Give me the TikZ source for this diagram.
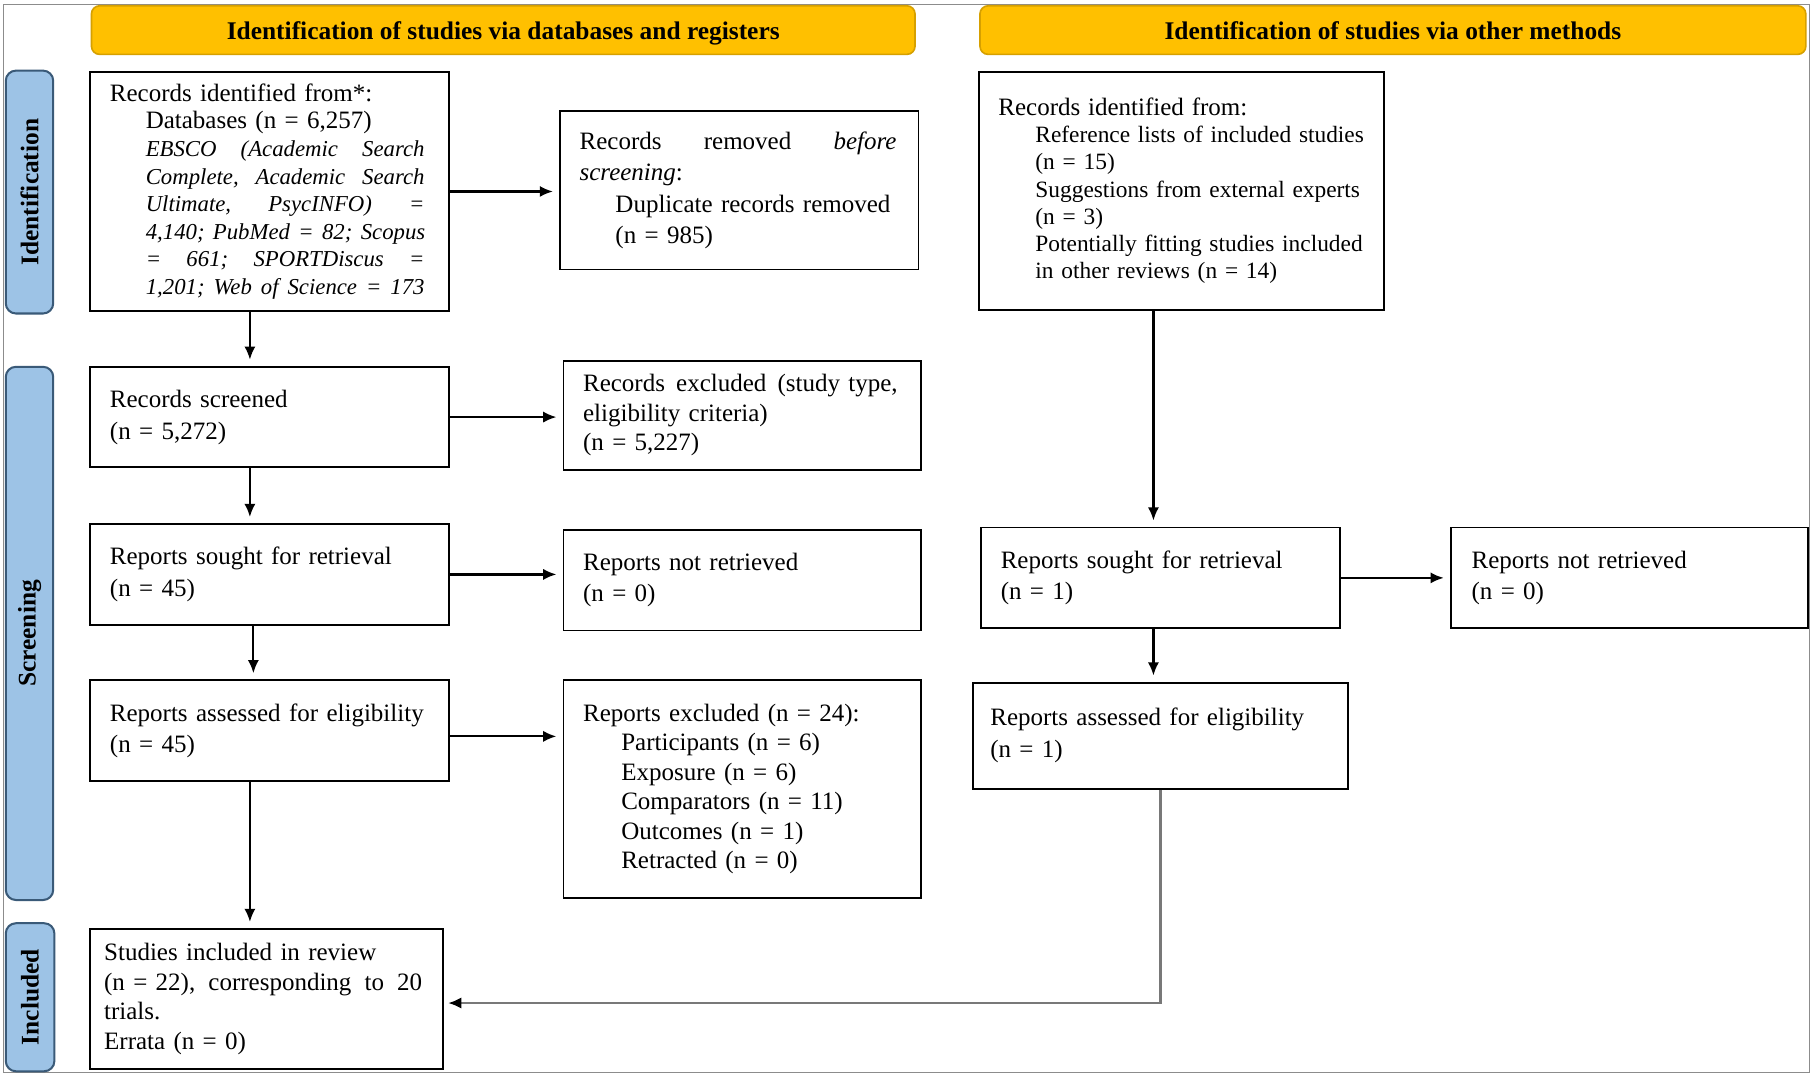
\documentclass[tikz,border=0pt]{standalone}
\usepackage{fontspec}
\setmainfont{Liberation Serif}
\usetikzlibrary{arrows.meta}
\definecolor{hdrfill}{RGB}{255,192,0}
\definecolor{hdrdraw}{RGB}{214,160,0}
\definecolor{sidefill}{RGB}{157,195,230}
\definecolor{sidedraw}{RGB}{58,90,120}
\definecolor{framegray}{RGB}{140,140,140}
\definecolor{linkgray}{RGB}{120,120,120}
\newcommand{\jl}[2]{\makebox[#1][l]{#2}}
\newcommand{\itl}[1]{\hspace*{0.62cm}\makebox[4.82cm][l]{\fontsize{11.2}{13.6}\selectfont\itshape #1}}
\begin{document}
\begin{tikzpicture}[x=0.02cm,y=-0.02cm,
 box/.style={draw=black, line width=0.9pt, rectangle, align=left, inner xsep=0.34cm, inner ysep=0pt, font=\fontsize{12.3}{14.5}\selectfont, anchor=center},
 hdr/.style={draw=hdrdraw, line width=0.8pt, fill=hdrfill, rounded corners=4pt, font=\fontsize{12.5}{14}\selectfont\bfseries, minimum height=0.84cm, inner sep=0pt, text height=12pt, text depth=2.5pt},
 side/.style={draw=sidedraw, line width=1pt, fill=sidefill, rounded corners=5pt, rotate=90, font=\fontsize{12.5}{14}\selectfont\bfseries, inner sep=0pt},
 arr/.style={line width=1.1pt, -{Latex[length=6.5pt,width=5.5pt]}, shorten >=3pt},
 garr/.style={draw=linkgray, line width=1.2pt, -{Latex[length=6.5pt,width=5.5pt,color=black]}, shorten >=2pt}
]
\useasboundingbox (0,0) rectangle (1568,931);
\fill[white] (0,0) rectangle (1568,931);
\draw[framegray, line width=0.6pt] (3,4) rectangle (1564,927);

% headers
\node[hdr, minimum width=14.24cm] (H1) at (435,26) {Identification of studies via databases and registers};
\node[hdr, minimum width=14.28cm] (H2) at (1204,26) {Identification of studies via other methods};

% side labels
\node[side, minimum width=4.2cm, minimum height=0.82cm] (S1) at (25.5,166) {Identification};
\node[side, minimum width=9.22cm, minimum height=0.82cm] (S2) at (25.5,547.5) {Screening};
\node[side, minimum width=2.56cm, minimum height=0.84cm] (S3) at (26,862) {Included};

% left column
\node[box, minimum width=6.2cm, minimum height=4.14cm, text width=5.52cm, font=\fontsize{12.3}{13.6}\selectfont] (A) at (233,165.5) {Records identified from*:\\
\hspace*{0.62cm}Databases (n = 6,257)\\
\itl{EBSCO \hfill (Academic \hfill Search}\\
\itl{Complete, \hfill Academic \hfill Search}\\
\itl{Ultimate, \hfill PsycINFO) \hfill =}\\
\itl{4,140; \hfill PubMed \hfill = \hfill 82; \hfill Scopus}\\
\itl{= \hfill 661; \hfill SPORTDiscus \hfill =}\\
\itl{1,201; \hfill Web \hfill of \hfill Science \hfill = \hfill 173}};

\node[box, minimum width=6.2cm, minimum height=2.74cm, text width=5.52cm, font=\fontsize{12.3}{15.3}\selectfont] (B) at (639,164.5) {\jl{5.48cm}{Records \hfill removed \hfill \textit{before}}\\
\textit{screening}:\\
\hspace*{0.62cm}Duplicate records removed\\
\hspace*{0.62cm}(n = 985)};

\node[box, minimum width=6.2cm, minimum height=1.74cm, text width=5.52cm, font=\fontsize{12.3}{15.8}\selectfont] (C) at (233,360.5) {Records screened\\ (n = 5,272)};

\node[box, minimum width=6.18cm, minimum height=1.88cm, text width=5.5cm] (D) at (641.5,359) {\jl{5.44cm}{Records \hfill excluded \hfill (study type,}\\ eligibility criteria)\\ (n = 5,227)};

\node[box, minimum width=6.2cm, minimum height=1.74cm, text width=5.52cm, font=\fontsize{12.3}{15.4}\selectfont] (E) at (233,496.5) {Reports sought for retrieval\\ (n = 45)};

\node[box, minimum width=6.18cm, minimum height=1.74cm, text width=5.5cm, font=\fontsize{12.3}{15.4}\selectfont] (F) at (641.5,501.5) {Reports not retrieved\\ (n = 0)};

\node[box, minimum width=6.2cm, minimum height=1.74cm, text width=5.52cm, font=\fontsize{12.3}{15.4}\selectfont] (G) at (233,631.5) {Reports assessed for eligibility\\ (n = 45)};

\node[box, minimum width=6.18cm, minimum height=3.76cm, text width=5.5cm] (H) at (641.5,682) {Reports excluded (n = 24):\\
\hspace*{0.66cm}Participants (n = 6)\\
\hspace*{0.66cm}Exposure (n = 6)\\
\hspace*{0.66cm}Comparators (n = 11)\\
\hspace*{0.66cm}Outcomes (n = 1)\\
\hspace*{0.66cm}Retracted (n = 0)};

\node[box, minimum width=6.1cm, minimum height=2.42cm, inner xsep=0.24cm, text width=5.62cm, font=\fontsize{12.3}{14.6}\selectfont] (I) at (230.5,863.5) {Studies included in review\\
\jl{5.5cm}{(n = 22), \hfill corresponding \hfill to \hfill 20}\\
trials.\\
Errata (n = 0)};

% right column
\node[box, minimum width=7.0cm, minimum height=4.12cm, text width=6.32cm, font=\fontsize{11.5}{13.4}\selectfont] (J) at (1021,165) {{\fontsize{12.3}{13.4}\selectfont Records identified from:}\\
\hspace*{0.64cm}Reference lists of included studies\\
\hspace*{0.64cm}(n = 15)\\
\hspace*{0.64cm}Suggestions from external experts\\
\hspace*{0.64cm}(n = 3)\\
\hspace*{0.64cm}Potentially fitting studies included\\
\hspace*{0.64cm}in other reviews (n = 14)};

\node[box, minimum width=6.2cm, minimum height=1.74cm, text width=5.52cm, font=\fontsize{12.3}{15.4}\selectfont] (K) at (1003,499.5) {Reports sought for retrieval\\ (n = 1)};

\node[box, minimum width=6.18cm, minimum height=1.74cm, inner xsep=0.36cm, text width=5.46cm, font=\fontsize{12.3}{15.4}\selectfont] (L) at (1408.5,499.5) {Reports not retrieved\\ (n = 0)};

\node[box, minimum width=6.48cm, minimum height=1.84cm, inner xsep=0.3cm, text width=5.88cm, font=\fontsize{12.3}{15.8}\selectfont] (M) at (1003,636) {Reports assessed for eligibility\\ (n = 1)};

% connectors
\draw[arr] (A.east) -- (A.east -| B.west);
\draw[arr] ([xshift=-0.34cm]A.south) -- ([xshift=-0.34cm]A.south |- C.north);
\draw[arr] (C.east) -- (C.east -| D.west);
\draw[arr] ([xshift=-0.34cm]C.south) -- ([xshift=-0.34cm]C.south |- E.north);
\draw[arr] (E.east) -- (E.east -| F.west);
\draw[arr] ([xshift=-0.28cm]E.south) -- ([xshift=-0.28cm]E.south |- G.north);
\draw[arr] ([yshift=-0.1cm]G.east) -- ([yshift=-0.1cm]G.east -| H.west);
\draw[arr] ([xshift=-0.34cm]G.south) -- ([xshift=-0.34cm]G.south |- I.north);
\draw[arr] ([xshift=-0.48cm]J.south) -- ([xshift=-0.48cm]J.south |- K.north);
\draw[arr] (K.east) -- (K.east -| L.west);
\draw[arr] ([xshift=-0.12cm]K.south) -- ([xshift=-0.12cm]K.south |- M.north);
\draw[garr] (M.south) |- ([yshift=-0.07cm]I.east);
\end{tikzpicture}
\end{document}
